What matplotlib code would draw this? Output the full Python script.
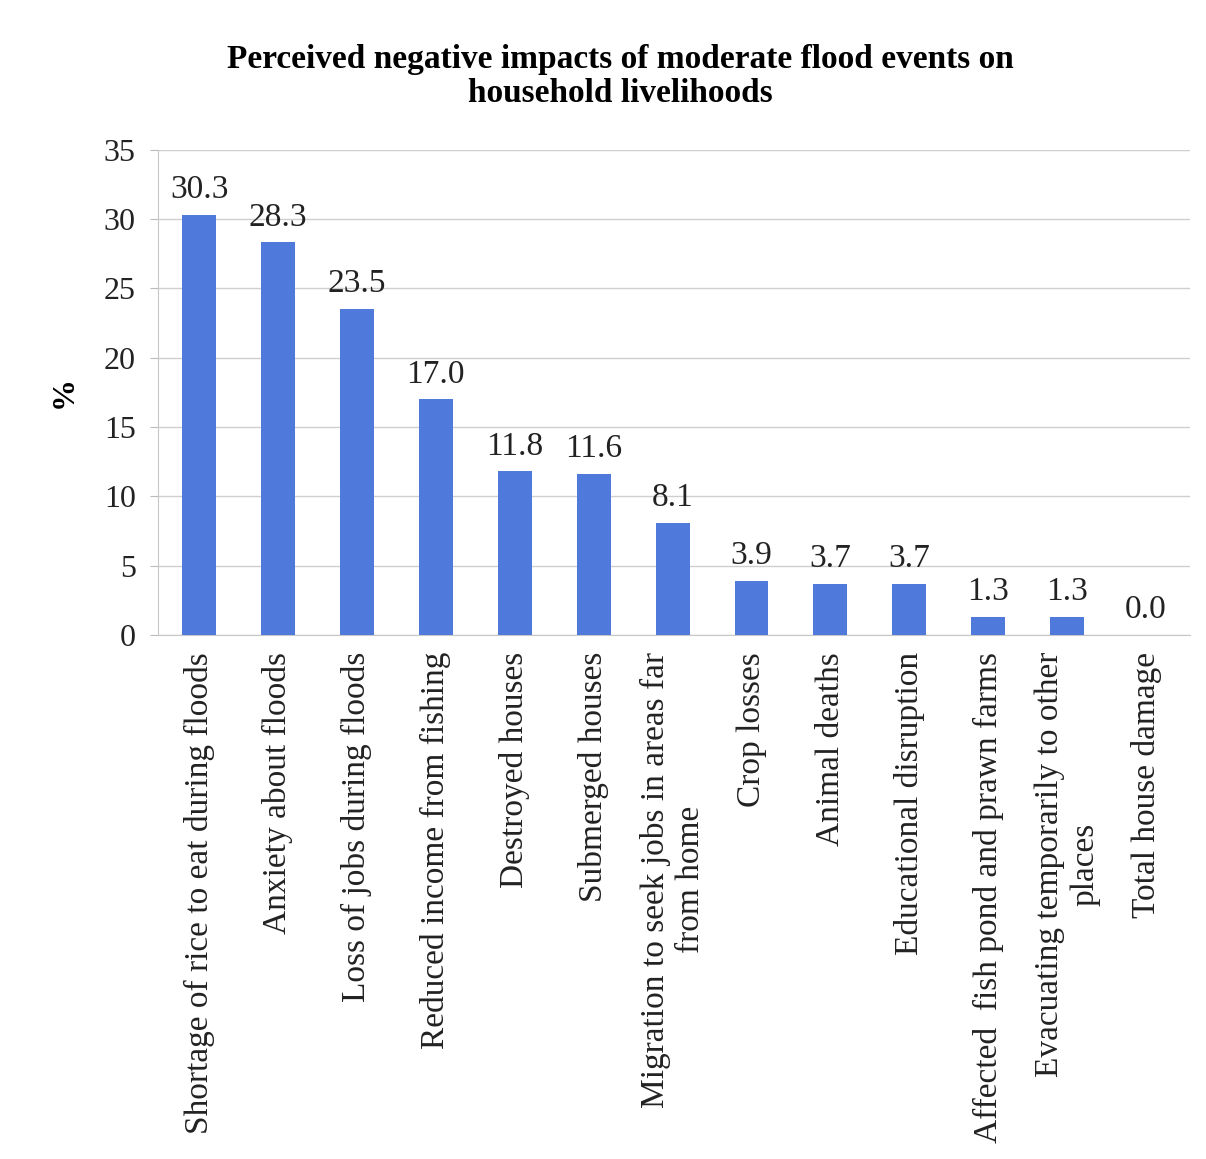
import matplotlib
matplotlib.use("Agg")
import matplotlib.pyplot as plt

categories = [
    "Shortage of rice to eat during floods",
    "Anxiety about floods",
    "Loss of jobs during floods",
    "Reduced income from fishing",
    "Destroyed houses",
    "Submerged houses",
    "Migration to seek jobs in areas far\nfrom home",
    "Crop losses",
    "Animal deaths",
    "Educational disruption",
    "Affected  fish pond and prawn farms",
    "Evacuating temporarily to other\nplaces",
    "Total house damage",
]
values = [30.3, 28.3, 23.5, 17.0, 11.8, 11.6, 8.1, 3.9, 3.7, 3.7, 1.3, 1.3, 0.0]
yticks = [0, 5, 10, 15, 20, 25, 30, 35]
title = "Perceived negative impacts of moderate flood events on\nhousehold livelihoods"

plt.rcParams['font.family'] = ['Liberation Serif', 'DejaVu Serif']

fig = plt.figure(figsize=(12.06, 11.59), dpi=100)
ax = fig.add_axes([0.131, 0.452, 0.856, 0.419])

x = list(range(len(categories)))
bars = ax.bar(x, values, width=0.43, color='#5079dc', zorder=3)

for xi, v in zip(x, values):
    ax.annotate(f"{v:.1f}", (xi, v), xytext=(0, 7), textcoords='offset points',
                ha='center', va='bottom', fontsize=24, color='#222222')

ax.set_ylim(0, 35)
ax.set_xlim(-0.52, 12.56)
ax.set_yticks(yticks)
ax.set_yticklabels([str(t) for t in yticks], fontsize=23, color='#222222')
ax.set_xticks(x)
ax.set_xticklabels(categories, rotation=90, fontsize=24, color='#222222',
                   ha='center', va='top', multialignment='center')
ax.tick_params(axis='x', length=0, pad=12)
ax.tick_params(axis='y', length=6, color='#bbbbbb', pad=10)
ax.yaxis.grid(True, color='#cfcfcf', linewidth=1.0, zorder=0)
for side in ['top', 'right']:
    ax.spines[side].set_visible(False)
ax.spines['left'].set_color('#c8c8c8')
ax.spines['bottom'].set_color('#c8c8c8')

ax.set_ylabel('%', fontsize=23, fontweight='bold', labelpad=18)

fig.text(0.514, 0.934, title, ha='center', va='center', fontsize=24,
         fontweight='bold', linespacing=1.15)

fig.savefig('out.png', dpi=100, facecolor='white')
